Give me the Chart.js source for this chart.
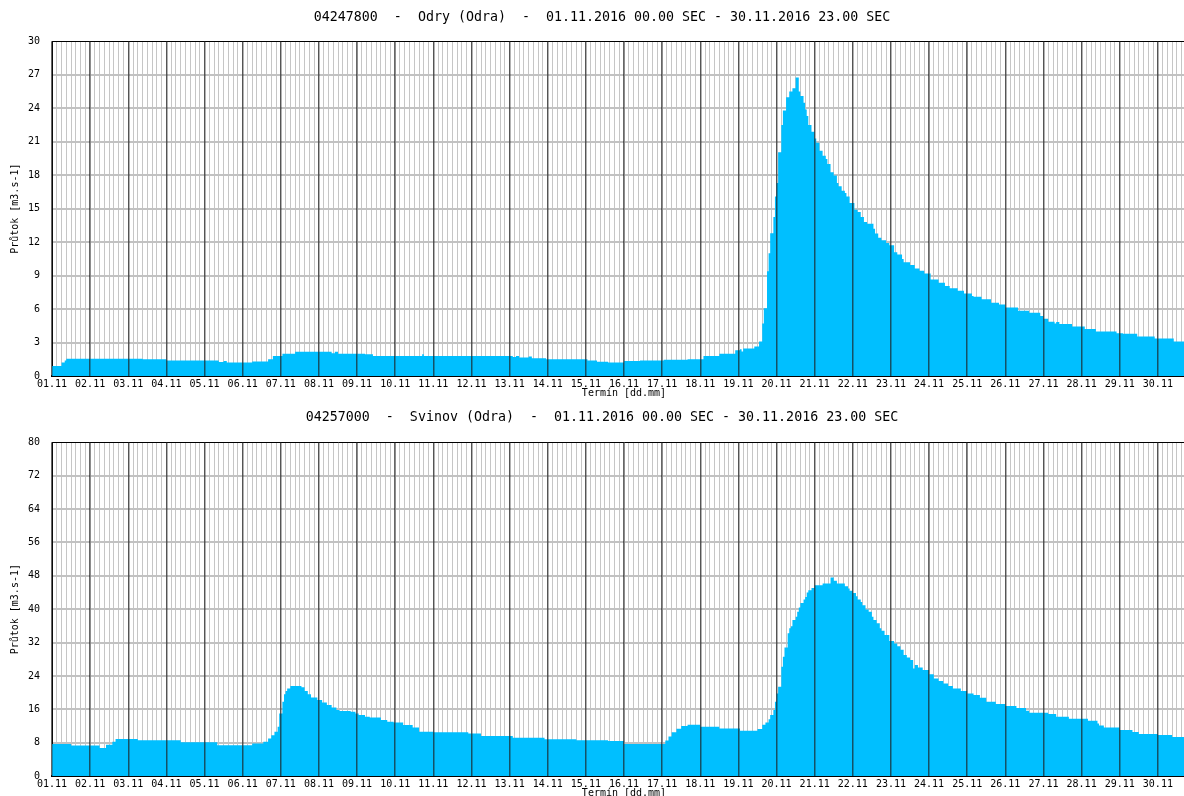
<!DOCTYPE html>
<html>
<head>
<meta charset="utf-8">
<title>Průtok – Odry, Svinov</title>
<script src="https://cdn.jsdelivr.net/npm/chart.js@4/dist/chart.umd.min.js"></script>
<style>
  html, body { margin: 0; padding: 0; background: #fff; overflow: hidden; width: 1184px; height: 796px; }
  canvas { position: absolute; left: 0; }
  #odry { top: 0; }
  #svinov { top: 400px; }
</style>
</head>
<body>
<canvas id="odry" width="1200" height="400"></canvas>
<canvas id="svinov" width="1200" height="400"></canvas>
<script>
// Day labels along the time axis (one per day, hour 0 of each day)
const dayLabels = [
  '01.11','02.11','03.11','04.11','05.11','06.11','07.11','08.11','09.11','10.11',
  '11.11','12.11','13.11','14.11','15.11','16.11','17.11','18.11','19.11','20.11',
  '21.11','22.11','23.11','24.11','25.11','26.11','27.11','28.11','29.11','30.11'
];

// Hourly discharge, stored as change points: hour since 01.11 00:00 SEC -> flow [m3/s]
const odryHours = [
  0, 6, 8, 9, 57, 72, 105, 108, 110, 126, 136, 139, 145, 153, 176, 178, 180, 197, 202, 233,
  234, 290, 292, 294, 300, 302, 311, 337, 343, 350, 360, 370, 385, 400, 410, 420, 430, 433, 434, 435,
  442, 445, 447, 448, 450, 451, 452, 454, 455, 456, 457, 459, 460, 462, 464, 466, 468, 470, 471, 473,
  474, 475, 476, 478, 480, 481, 483, 485, 487, 488, 490, 492, 494, 495, 497, 499, 500, 502, 505, 507,
  509, 511, 513, 517, 518, 520, 522, 525, 527, 530, 532, 535, 536, 540, 543, 546, 549, 553, 558, 562,
  565, 570, 574, 579, 580, 585, 591, 596, 600, 608, 615, 622, 624, 627, 631, 632, 634, 642, 650, 657,
  670, 674, 683, 694, 706
];
const odryFlow = [
  0.9, 1.2, 1.4, 1.55, 1.5, 1.4, 1.25, 1.35, 1.2, 1.3, 1.5, 1.8, 2.0, 2.17, 2.05, 2.17, 2.0, 1.95, 1.8, 1.95,
  1.8, 1.7, 1.8, 1.65, 1.75, 1.6, 1.5, 1.4, 1.28, 1.2, 1.35, 1.4, 1.45, 1.5, 1.8, 2.0, 2.3, 2.4, 2.2, 2.46,
  2.64, 3.1, 4.7, 6.07, 9.4, 11.0, 12.8, 14.25, 16.1, 17.3, 20.05, 22.5, 23.8, 25.0, 25.5, 25.8, 26.75, 25.5, 25.1, 24.5,
  23.9, 23.3, 22.5, 21.9, 21.3, 20.9, 20.2, 19.75, 19.45, 19.0, 18.27, 17.97, 17.3, 17.0, 16.6, 16.4, 16.1, 15.5, 14.9, 14.7,
  14.25, 13.8, 13.66, 13.2, 12.77, 12.4, 12.17, 11.93, 11.72, 11.1, 10.9, 10.5, 10.2, 9.94, 9.64, 9.43, 9.2, 8.66, 8.36, 8.06,
  7.86, 7.64, 7.4, 7.17, 7.1, 6.87, 6.57, 6.4, 6.13, 5.86, 5.68, 5.38, 5.14, 4.87, 4.7, 4.85, 4.67, 4.43, 4.22, 3.98,
  3.84, 3.78, 3.54, 3.36, 3.09
];

const svinovHours = [
  0, 12, 30, 34, 38, 40, 54, 81, 104, 126, 133, 136, 138, 140, 142, 143, 145, 146, 147, 148,
  150, 157, 159, 161, 163, 167, 170, 173, 176, 179, 181, 188, 191, 193, 197, 200, 207, 211, 215, 221,
  227, 231, 240, 262, 270, 290, 310, 330, 350, 360, 386, 388, 390, 393, 396, 400, 408, 420, 433, 444,
  447, 449, 451, 452, 454, 455, 456, 457, 459, 460, 461, 463, 464, 465, 466, 468, 469, 470, 471, 473,
  474, 475, 476, 478, 480, 485, 490, 492, 494, 499, 501, 502, 504, 506, 507, 509, 510, 512, 514, 516,
  517, 519, 521, 522, 524, 527, 530, 532, 534, 536, 538, 540, 542, 543, 545, 548, 552, 555, 558, 561,
  564, 567, 572, 576, 580, 584, 588, 594, 600, 607, 613, 615, 627, 632, 640, 652, 658, 659, 662, 672,
  680, 684, 696, 705
];
const svinovFlow = [
  7.7, 7.3, 6.7, 7.5, 8.2, 8.9, 8.6, 8.1, 7.4, 7.8, 8.2, 9.0, 9.8, 10.6, 11.8, 15.0, 17.8, 19.6, 20.4, 21.0,
  21.6, 21.3, 20.4, 19.6, 18.85, 18.2, 17.65, 17.0, 16.45, 15.8, 15.57, 15.4, 15.0, 14.6, 14.2, 14.0, 13.4, 13.0, 12.8, 12.2,
  11.65, 10.6, 10.5, 10.2, 9.6, 9.2, 8.8, 8.6, 8.4, 7.7, 8.5, 9.5, 10.5, 11.3, 12.0, 12.3, 11.8, 11.4, 10.86, 11.26,
  12.3, 12.85, 13.6, 14.6, 15.8, 17.8, 19.8, 21.4, 26.2, 28.6, 30.8, 34.2, 35.4, 35.9, 37.4, 38.2, 39.4, 40.4, 41.5, 42.3,
  42.95, 44.0, 44.55, 45.1, 45.75, 46.15, 47.6, 46.8, 46.15, 45.5, 44.95, 44.4, 43.9, 43.1, 42.3, 41.75, 40.95, 39.9, 39.4, 38.2,
  37.4, 36.6, 35.4, 34.8, 33.8, 32.4, 31.8, 31.1, 30.3, 29.0, 28.4, 27.8, 25.8, 26.6, 26.0, 25.4, 24.4, 23.4, 22.8, 22.2,
  21.6, 21.0, 20.4, 19.8, 19.4, 18.75, 17.8, 17.25, 16.77, 16.3, 15.65, 15.17, 14.85, 14.2, 13.7, 13.25, 12.6, 12.1, 11.6, 11.0,
  10.54, 10.06, 9.82, 9.34
];

const FONT = 'DejaVu Sans Mono';
const HOURS_TOTAL = dayLabels.length * 24;

// Step series: each value holds from its hour until the next change point
function stepPoints(hours, flow) {
  const pts = hours.map((h, i) => ({ x: h, y: flow[i] }));
  pts.push({ x: HOURS_TOTAL, y: flow[flow.length - 1] });
  return pts;
}

function hydrograph(canvasId, titleText, hours, flow, yMax, yStep, titleGap) {
  return new Chart(document.getElementById(canvasId), {
    type: 'line',
    data: {
      datasets: [{
        data: stepPoints(hours, flow),
        stepped: 'before',
        fill: 'origin',
        backgroundColor: '#00bfff',
        borderColor: '#00bfff',
        borderWidth: 0,
        pointRadius: 0
      }]
    },
    options: {
      responsive: false,
      animation: false,
      devicePixelRatio: 1,
      layout: { padding: { left: 8, right: 4, top: 0, bottom: 0 } },
      plugins: {
        legend: { display: false },
        tooltip: { enabled: false },
        title: {
          display: true,
          text: titleText,
          color: '#000',
          font: { family: FONT, size: 13.3, weight: 'normal', lineHeight: 1.2 },
          padding: { top: 10, bottom: titleGap }
        }
      },
      scales: {
        x: {
          type: 'linear',
          position: 'bottom',
          min: 0,
          max: HOURS_TOTAL,
          afterFit(scale) { scale.height = 24; },
          ticks: {
            stepSize: 3,
            maxTicksLimit: 400,
            autoSkip: false,
            maxRotation: 0,
            minRotation: 0,
            padding: 2,
            color: '#000',
            font: { family: FONT, size: 10 },
            callback: (v) => (v % 24 === 0 && v < HOURS_TOTAL) ? dayLabels[v / 24] : ''
          },
          grid: { color: '#c6c6c6', lineWidth: 1, drawTicks: false },
          border: { display: true, color: '#000', width: 2 },
          title: {
            display: true,
            text: 'Termín [dd.mm]',
            color: '#000',
            font: { family: FONT, size: 10 },
            padding: { top: 0, bottom: 1 }
          }
        },
        days: {
          type: 'linear',
          position: 'bottom',
          min: 0,
          max: HOURS_TOTAL,
          afterFit(scale) { scale.height = 0; },
          ticks: { display: false, stepSize: 24, maxTicksLimit: 100 },
          grid: { z: 1, color: 'rgba(30,30,30,0.68)', lineWidth: 1.5, drawTicks: false },
          border: { display: false }
        },
        y: {
          min: 0,
          max: yMax,
          afterFit(scale) { scale.width = 44; },
          ticks: {
            stepSize: yStep,
            padding: 12,
            color: '#000',
            font: { family: FONT, size: 10 }
          },
          grid: {
            color: (c) => (c.tick && c.tick.value === yMax) ? '#000' : '#c2c2c2',
            lineWidth: (c) => (c.tick && c.tick.value === yMax) ? 1 : 2,
            drawTicks: false
          },
          border: { display: true, color: '#000', width: 1 },
          title: {
            display: true,
            text: 'Průtok [m3.s-1]',
            color: '#000',
            font: { family: FONT, size: 10 },
            padding: { top: 1, bottom: 0 }
          }
        }
      }
    }
  });
}

hydrograph('odry',
  '04247800  -  Odry (Odra)  -  01.11.2016 00.00 SEC - 30.11.2016 23.00 SEC',
  odryHours, odryFlow, 30, 3, 15.4);
hydrograph('svinov',
  '04257000  -  Svinov (Odra)  -  01.11.2016 00.00 SEC - 30.11.2016 23.00 SEC',
  svinovHours, svinovFlow, 80, 8, 16.4);
</script>
</body>
</html>
